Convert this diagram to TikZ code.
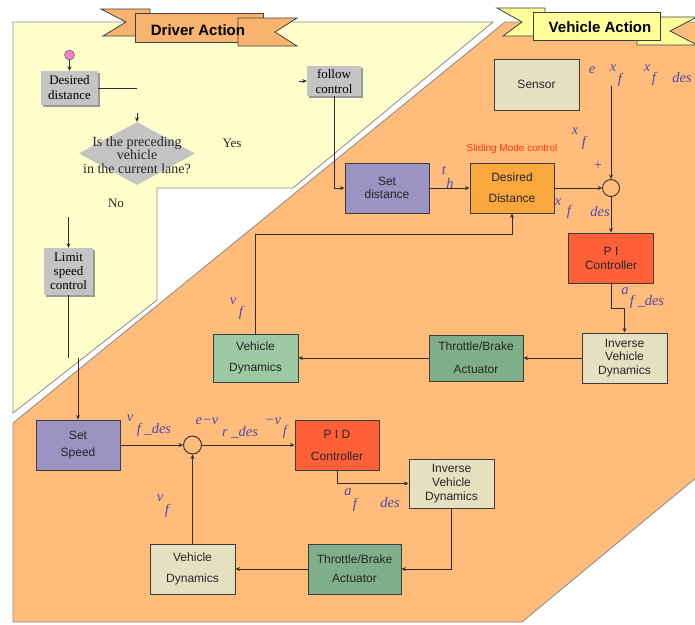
\documentclass[tikz,border=0pt]{standalone}
\usepackage{fontspec}
\setmainfont{Liberation Serif}
\setsansfont{Liberation Sans}
\usetikzlibrary{shapes.geometric,arrows.meta,shadows}

\definecolor{cyellow}{HTML}{FFFFCC}
\definecolor{corange}{HTML}{FFBC7A}
\definecolor{cedge}{HTML}{8A8A8A}
\definecolor{cline}{HTML}{2E2E2E}
\definecolor{cbox}{HTML}{3C3C3C}
\definecolor{cgray}{HTML}{C4C4C4}
\definecolor{cshadow}{HTML}{9A9A9A}
\definecolor{cpurple}{HTML}{9B93C2}
\definecolor{cdesd}{HTML}{F9A83E}
\definecolor{cred}{HTML}{FF6038}
\definecolor{cbeige}{HTML}{E6DFC0}
\definecolor{cgreen}{HTML}{7FAF8A}
\definecolor{cgreenlt}{HTML}{9CC9A3}
\definecolor{cblue}{HTML}{4A4AB0}
\definecolor{cslide}{HTML}{FF3A10}
\definecolor{cribbonD}{HTML}{F8B46E}
\definecolor{cribbonV}{HTML}{FFFF99}
\definecolor{cpink}{HTML}{F080C8}

\begin{document}
\begin{tikzpicture}[x=1pt,y=-1pt,
  arr/.style={draw=cline, line width=0.8pt, -{Stealth[length=4.5pt,width=4pt]}},
  wire/.style={draw=cline, line width=0.8pt},
  vbox/.style={draw=cbox, line width=1pt, align=center, inner sep=0pt,
    text=black!85, font=\sffamily\fontsize{12}{#1}\selectfont},
  vbox/.default=14,
  gbox/.style={fill=cgray, align=center, inner sep=0pt,
    font=\rmfamily\fontsize{13}{#1}\selectfont,
    drop shadow={shadow xshift=2pt,shadow yshift=-2pt,fill=cshadow,opacity=1}},
  gbox/.default=14,
  mlab/.style={text=cblue, font=\rmfamily\itshape\fontsize{14.5}{14.5}\selectfont, inner sep=0pt},
  plain/.style={text=black!85, font=\rmfamily\fontsize{13}{13}\selectfont, inner sep=0pt},
  region/.style={draw=cedge, line width=0.8pt},
  ribbon/.style={draw=black!75, line width=0.8pt},
]
\useasboundingbox (0,0) rectangle (695,624);
\fill[white] (0,0) rectangle (695,624);

% ---- swimlanes ----
\path[region, fill=cyellow] (13,22) -- (493,22) -- (293,188) -- (157,188)
  -- (157,300) -- (13,413) -- cycle;
\path[region, fill=corange] (505,22) -- (697,22) -- (697,477) -- (522,622)
  -- (13,622) -- (13,423) -- cycle;

% ---- ribbon titles ----
\path[ribbon, fill=cribbonD] (101,9) -- (150,9) -- (150,36) -- (103,36) -- (126,22) -- cycle;
\path[ribbon, fill=cribbonD] (135,13) rectangle (263,42);
\path[ribbon, fill=cribbonD] (238,18) -- (297,18) -- (275,32) -- (297,46) -- (238,46) -- cycle;
\node[font=\sffamily\bfseries\fontsize{15}{15}\selectfont, inner sep=0pt] (titleD) at (198,30) {Driver Action};

\path[ribbon, fill=cribbonV] (497,8) -- (545,8) -- (545,36) -- (503,36) -- (522,22) -- cycle;
\path[ribbon, fill=cribbonV] (637,17) -- (697,17) -- (670,31) -- (697,45) -- (637,45) -- cycle;
\path[ribbon, fill=cribbonV] (533,12) rectangle (660,40);
\node[font=\sffamily\bfseries\fontsize{15}{15}\selectfont, inner sep=0pt] (titleV) at (600,27) {Vehicle Action};

% ---- driver action flow ----
\node[circle, draw=black!70, fill=cpink, minimum size=10pt, inner sep=0pt] (start) at (69.5,55) {};
\node[gbox=15, minimum width=57, minimum height=34] (desired) at (69.5,88) {Desired\\distance};
\node[diamond, fill=cgray, minimum width=116, minimum height=63, inner sep=0pt] (dec) at (137,153.5) {};
\node[plain, align=center, font=\rmfamily\fontsize{14}{13.5}\selectfont] (dectext) at (137,155)
  {Is the preceding\\vehicle\\in the current lane?};
\node[plain] (yes) at (232,143) {Yes};
\node[plain] (no) at (116,203) {No};
\node[gbox=15, minimum width=54, minimum height=30] (follow) at (334,81) {follow\\control};
\node[gbox=14, minimum width=49, minimum height=47] (limit) at (68.5,271.5) {Limit\\speed\\control};

\coordinate (d1) at (137,88);
\coordinate (d2) at (137,113);
\coordinate (d3) at (299,81);
\coordinate (l1) at (68.5,217);
\coordinate (l2) at (68.5,358);
\coordinate (l3) at (78,358);

\draw[arr] (start) -- (desired);
\draw[wire] (desired.east) -- (d1);
\draw[arr] (d2) -- (dec.north);
\draw[arr] (d3) -- (follow.west);
\draw[arr] (l1) -- (limit.north);
\draw[wire] (limit.south) -- (l2);

% ---- vehicle action: distance loop ----
\node[vbox, fill=cbeige, minimum width=85, minimum height=51] (sensor) at (536.5,84.5) {Sensor};
\node[vbox=12.5, fill=cpurple, minimum width=84, minimum height=50] (setd) at (387,188) {Set\\distance};
\node[vbox=21, fill=cdesd, minimum width=84, minimum height=50] (desd) at (512,188) {Desired\\Distance};
\node[circle, draw=cline, line width=0.9pt, fill=corange, minimum size=17pt, inner sep=0pt] (sum1) at (611,188) {};
\node[vbox=14, fill=cred, minimum width=85, minimum height=50] (pi) at (611,258) {P I\\Controller};
\node[vbox=13.5, fill=cbeige, minimum width=85, minimum height=50] (inv1) at (624.5,358) {Inverse\\Vehicle\\Dynamics};
\node[vbox=23, fill=cgreen, minimum width=94, minimum height=46] (thr1) at (476,358) {Throttle/Brake\\Actuator};
\node[vbox=21, fill=cgreenlt, minimum width=85, minimum height=48] (vd1) at (255.5,358) {Vehicle\\Dynamics};
\node[text=cslide, font=\sffamily\fontsize{10}{10}\selectfont, inner sep=0pt] (slide) at (512,149) {Sliding Mode control};

\coordinate (xin) at (611,86);
\coordinate (fb1) at (512,234);

\draw[arr] (follow.south) |- (setd.west);
\draw[arr] (setd) -- (desd);
\draw[arr] (desd.east) -- (sum1.west);
\draw[arr] (xin) -- (sum1.north);
\draw[arr] (sum1.south) -- (pi.north);
\draw[arr] (pi.south) -- ++(0,25) -| (inv1.north);
\draw[arr] (inv1.west) -- (thr1.east);
\draw[arr] (thr1.west) -- (vd1.east);
\draw[arr] (vd1.north) |- (fb1) -- (desd.south);

% signal labels
\node[mlab] (le) at (592,70) {e};
\node[mlab] (lx1) at (613,68) {x};
\node[mlab] (lf1) at (620,80) {f};
\node[mlab] (lx2) at (647,68) {x};
\node[mlab] (lf2) at (654,79) {f};
\node[mlab] (ldes1) at (682,78) {des};
\node[mlab] (lx3) at (575,131) {x};
\node[mlab] (lf3) at (584,143) {f};
\node[text=cblue, font=\rmfamily\fontsize{14}{14}\selectfont, inner sep=0pt] (lplus) at (598,166) {+};
\node[mlab] (lt) at (444,170) {t};
\node[mlab] (lh) at (450,183) {h};
\node[mlab] (lx4) at (558,202) {x};
\node[mlab] (lf4) at (569,212) {f};
\node[mlab] (ldes2) at (600,212) {des};
\node[mlab] (la1) at (625,291) {a};
\node[mlab] (lf5) at (647,302) {f \_des};
\node[mlab] (lv1) at (233,301) {v};
\node[mlab] (lf6) at (241,313) {f};

% ---- vehicle action: speed loop ----
\node[vbox=17, fill=cpurple, minimum width=84, minimum height=50] (setsp) at (78,445) {Set\\Speed};
\node[circle, draw=cline, line width=0.9pt, fill=corange, minimum size=18pt, inner sep=0pt] (sum2) at (192.5,445) {};
\node[vbox=22, fill=cred, minimum width=84, minimum height=50] (pid) at (337,445) {P I D\\Controller};
\node[vbox=14, fill=cbeige, minimum width=85, minimum height=49] (inv2) at (451.5,483.5) {Inverse\\Vehicle\\Dynamics};
\node[vbox=19, fill=cgreen, minimum width=93, minimum height=50] (thr2) at (354.5,569) {Throttle/Brake\\Actuator};
\node[vbox=21, fill=cbeige, minimum width=85, minimum height=50] (vd2) at (192.5,569) {Vehicle\\Dynamics};

\draw[arr] (l3) -- (setsp.north);
\draw[arr] (setsp.east) -- (sum2.west);
\draw[arr] (sum2.east) -- (pid.west);
\draw[arr] (pid.south) |- (inv2.west);
\draw[arr] (inv2.south) |- (thr2.east);
\draw[arr] (thr2.west) -- (vd2.east);
\draw[arr] (vd2.north) -- (sum2.south);

\node[mlab] (lv2) at (130,418) {v};
\node[mlab] (lf7) at (154,430) {f \_des};
\node[mlab] (lev) at (207,421) {e−v};
\node[mlab] (lr) at (240,432) {r \_des};
\node[mlab] (lmv) at (273,421) {−v};
\node[mlab] (lf8) at (285,432) {f};
\node[mlab] (lv3) at (160,498) {v};
\node[mlab] (lf9) at (167,511) {f};
\node[mlab] (la2) at (348,492) {a};
\node[mlab] (lf10) at (355,505) {f};
\node[mlab] (ldes3) at (390,503) {des};
\end{tikzpicture}
\end{document}
